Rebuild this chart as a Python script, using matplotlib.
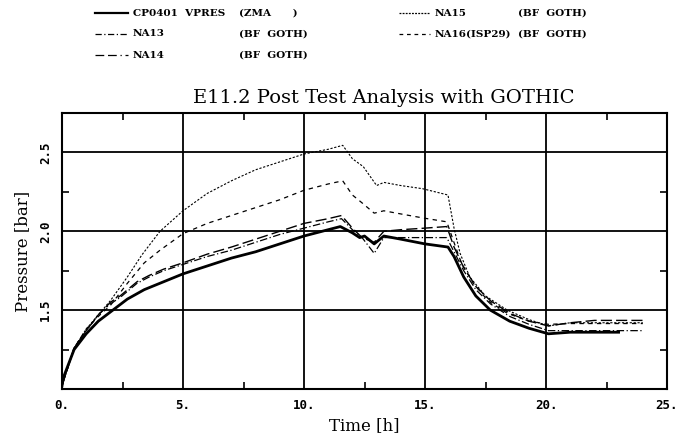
import matplotlib
matplotlib.use("Agg")
import matplotlib.pyplot as plt
from matplotlib.lines import Line2D

# CP0401 VPRES (ZMA) - mesure
t_cp = [0, 0.05, 0.5, 1.0, 1.5, 2.1, 2.7, 3.4, 4.2, 5.0, 6.0, 7.0, 8.0, 9.0, 10.0, 11.0, 11.5, 12.0,
        12.3, 12.5, 12.9, 13.3, 14.0, 15.0, 15.95, 16.2, 16.6, 17.1, 17.7, 18.5, 19.3, 20.1, 21.0, 22.0, 23.0]
p_cp = [1.02, 1.07, 1.25, 1.35, 1.43, 1.50, 1.57, 1.63, 1.68, 1.73, 1.78, 1.83, 1.87, 1.92, 1.97, 2.01, 2.03, 1.99,
        1.96, 1.97, 1.92, 1.97, 1.95, 1.92, 1.90, 1.84, 1.71, 1.59, 1.50, 1.43, 1.385, 1.35, 1.36, 1.36, 1.36]

# NA13 / NA14 (meme grille de temps)
t_na1314 = [0, 0.5, 1.0, 1.5, 2.0, 2.4, 3.1, 3.6, 4.2, 5.0, 6.0, 7.0, 8.0, 9.0, 10.0, 11.0, 11.55, 12.0,
            12.4, 12.9, 13.3, 14.0, 15.0, 15.9, 16.2, 16.6, 17.1, 17.7, 18.5, 19.3, 20.1, 21.0, 22.0, 23.0, 24.0]
p_na13 = [1.02, 1.26, 1.37, 1.47, 1.54, 1.58, 1.67, 1.71, 1.75, 1.79, 1.84, 1.88, 1.93, 1.98, 2.02, 2.06, 2.08, 2.01,
          1.96, 1.86, 1.96, 1.96, 1.96, 1.96, 1.87, 1.75, 1.63, 1.54, 1.46, 1.41, 1.37, 1.37, 1.37, 1.37, 1.37]
p_na14 = [1.02, 1.26, 1.37, 1.47, 1.55, 1.59, 1.68, 1.72, 1.76, 1.80, 1.855, 1.90, 1.95, 2.00, 2.05, 2.08, 2.10, 2.02,
          1.96, 1.93, 2.00, 2.01, 2.02, 2.03, 1.90, 1.77, 1.65, 1.56, 1.48, 1.43, 1.40, 1.42, 1.435, 1.435, 1.435]

# NA15
t_na15 = [0, 0.5, 1.0, 1.5, 2.0, 2.7, 3.3, 4.05, 5.0, 6.0, 7.0, 8.0, 9.0, 10.0, 11.0, 11.6, 12.0, 12.45,
          13.0, 13.3, 14.0, 14.9, 15.95, 16.2, 16.45, 16.85, 17.5, 18.4, 19.3, 20.1, 21.0, 22.0, 23.0, 24.0]
p_na15 = [1.02, 1.26, 1.38, 1.47, 1.56, 1.71, 1.85, 2.00, 2.13, 2.24, 2.32, 2.39, 2.44, 2.49, 2.52, 2.545, 2.46, 2.41,
          2.29, 2.31, 2.29, 2.27, 2.23, 2.02, 1.86, 1.71, 1.59, 1.50, 1.44, 1.40, 1.42, 1.42, 1.42, 1.42]

# NA16 (ISP29)
t_na16 = [0, 0.5, 1.0, 1.5, 2.0, 2.7, 3.4, 4.05, 5.0, 6.0, 7.0, 8.0, 9.0, 10.0, 11.0, 11.6, 12.0, 12.4,
          12.9, 13.3, 14.0, 14.9, 15.9, 16.15, 16.5, 17.0, 17.6, 18.4, 19.3, 20.1, 21.0, 22.0, 23.0, 24.0]
p_na16 = [1.02, 1.26, 1.38, 1.46, 1.53, 1.67, 1.80, 1.88, 1.985, 2.05, 2.10, 2.15, 2.20, 2.26, 2.30, 2.32, 2.23, 2.18,
          2.115, 2.13, 2.11, 2.085, 2.06, 1.95, 1.80, 1.67, 1.56, 1.48, 1.43, 1.41, 1.415, 1.415, 1.415, 1.415]

names = ["CP0401  VPRES", "NA13", "NA14", "NA15", "NA16(ISP29)"]
tags = ["(ZMA      )", "(BF  GOTH)", "(BF  GOTH)", "(BF  GOTH)", "(BF  GOTH)"]
x_ticks = [0, 5, 10, 15, 20, 25]
x_ticklabels = ["0.", "5.", "10.", "15.", "20.", "25."]
y_ticks = [1.5, 2.0, 2.5]
y_ticklabels = ["1.5", "2.0", "2.5"]

styles = ["-", (0, (6, 2, 1, 2)), (0, (8, 3)), (0, (2, 1.5)), (0, (3.5, 3.5))]
widths = [2.0, 0.9, 1.0, 0.8, 0.9]
leg_styles = ["-", (0, (5, 2, 1, 2)), (0, (7, 3, 7, 3, 1, 3)), (0, (1.5, 1)), (0, (3, 3))]

W, H = 682, 437
fig = plt.figure(figsize=(W / 100, H / 100), dpi=100)
ax = fig.add_axes([62 / W, 1 - 389 / H, 605 / W, 276 / H])

series = [(t_cp, p_cp), (t_na1314, p_na13), (t_na1314, p_na14), (t_na15, p_na15), (t_na16, p_na16)]
for i, (t, p) in enumerate(series):
    ax.plot(t, p, color="black", lw=widths[i], ls=styles[i])

ax.set_xlim(0, 25)
ax.set_ylim(1.0, 2.75)
ax.set_xticks(x_ticks)
ax.set_xticklabels(x_ticklabels, fontsize=9, fontweight="bold", family="DejaVu Sans Mono")
ax.set_yticks(y_ticks)
ax.set_yticklabels(y_ticklabels, fontsize=9, fontweight="bold", family="DejaVu Sans Mono",
                   rotation=90, va="center")
ax.set_xticks([2.5, 7.5, 12.5, 17.5, 22.5], minor=True)
ax.set_yticks([1.25, 1.75, 2.25], minor=True)
ax.tick_params(which="major", length=0, pad=7)
ax.tick_params(which="minor", direction="in", length=5, width=1.2,
               top=True, bottom=True, left=True, right=True)
ax.grid(True, which="major", color="black", lw=1.3)
for s in ax.spines.values():
    s.set_linewidth(1.5)

ax.set_xlabel("Time [h]", family="DejaVu Serif", fontsize=12, labelpad=4)
ax.set_ylabel("Pressure [bar]", family="DejaVu Serif", fontsize=12, labelpad=6)
fig.text(0.562, 0.775, "E11.2 Post Test Analysis with GOTHIC", ha="center", va="center",
         family="DejaVu Serif", fontsize=14)

# legende faite a la main (2 colonnes, texte aligne comme sur l'original)
col_x = [(95, 128, 133, 239), (95, 128, 133, 239), (95, 128, 133, 239),
         (399, 430, 435, 518), (399, 430, 435, 518)]
row_y = [13, 34, 55, 13, 34]
font = {"family": "DejaVu Serif", "weight": "bold", "size": 7.5}
for i in range(5):
    x0, x1, xt, xg = col_x[i]
    y = 1 - row_y[i] / H
    fig.add_artist(Line2D([x0 / W, x1 / W], [y, y], transform=fig.transFigure, color="black",
                          lw=1.6 if i == 0 else 0.9, ls=leg_styles[i]))
    fig.text(xt / W, y, names[i], va="center", ha="left", **font)
    fig.text(xg / W, y, tags[i], va="center", ha="left", **font)

plt.savefig("out.png", dpi=100)
